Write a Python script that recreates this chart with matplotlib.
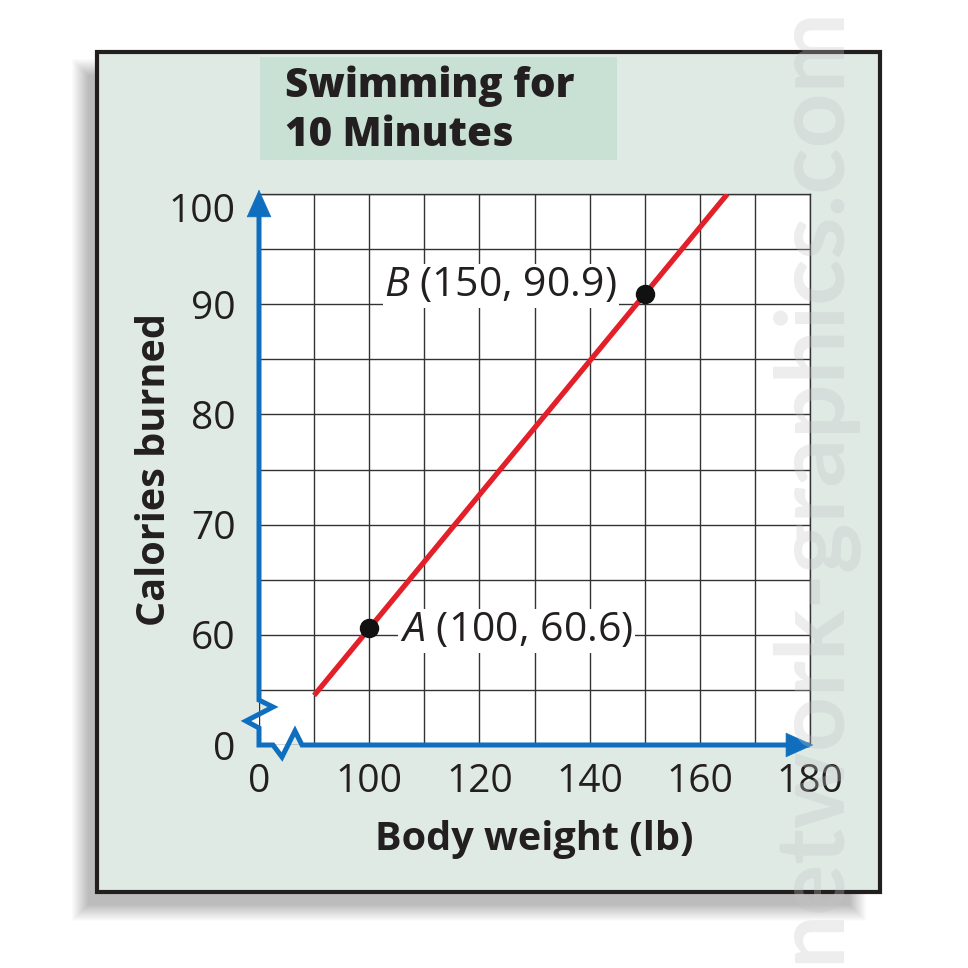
import matplotlib
matplotlib.use("Agg")
import matplotlib.pyplot as plt
from matplotlib.patches import Rectangle, Polygon
from matplotlib.transforms import ScaledTranslation

# ---- data ----
weights = [100, 150]
calories = [60.6, 90.9]
point_names = ["A", "B"]
line_x = [90, 165]
line_y = [54.5, 100.0]
x_ticks = [80, 100, 120, 140, 160, 180]
x_ticklabels = ["0", "100", "120", "140", "160", "180"]
y_ticks = [50, 60, 70, 80, 90, 100]
y_ticklabels = ["0", "60", "70", "80", "90", "100"]

BLUE, RED, INK = "#0f6fbe", "#e3202a", "#231f20"
PANEL, TITLEBOX = "#dfeae5", "#c9e0d4"
FONT = ["Open Sans", "DejaVu Sans"]
plt.rcParams.update({"font.family": FONT, "mathtext.fontset": "custom",
                     "mathtext.it": "Open Sans:italic", "mathtext.rm": "Open Sans"})

W = H = 968
fig = plt.figure(figsize=(W / 100, H / 100), dpi=100)

# background layer in pixel units: shadow, frame, title box
bg = fig.add_axes([0, 0, 1, 1])
bg.set_xlim(0, W); bg.set_ylim(H, 0); bg.axis("off")
for g in range(0, 17, 1):
    bg.add_patch(Rectangle((88 - g, 75 - g), 762 + 2 * g, 830 + 2 * g, fc="k", ec="none", alpha=0.016))
bg.add_patch(Rectangle((97, 52), 783, 840, fc=PANEL, ec=INK, lw=3))
bg.add_patch(Rectangle((260, 57), 357, 103, fc=TITLEBOX, ec="none"))
bg.text(285, 97, "Swimming for", fontsize=29, fontweight="heavy", color=INK, va="baseline")
bg.text(285, 146, "10 Minutes", fontsize=29, fontweight="heavy", color=INK, va="baseline")

# plot axes
ax = fig.add_axes([259 / W, (H - 745) / H, (810 - 259) / W, (745 - 194) / H])
ax.set_xlim(80, 180); ax.set_ylim(50, 100)
ax.patch.set_alpha(0)
ax.set_axisbelow(True)
ax.set_xticks(x_ticks); ax.set_xticklabels(x_ticklabels)
ax.set_yticks(y_ticks); ax.set_yticklabels(y_ticklabels)
ax.set_xticks(range(90, 180, 20), minor=True)
ax.set_yticks(range(55, 100, 10), minor=True)
ax.grid(which="both", color="#333333", lw=1.0)
ax.tick_params(which="both", length=0, labelsize=28, colors=INK)
ax.tick_params(axis="x", pad=13)
ax.tick_params(axis="y", pad=17)
for s in ["top", "right"]:
    ax.spines[s].set_color("#333333"); ax.spines[s].set_linewidth(1.0)
for s in ["left", "bottom"]:
    ax.spines[s].set_visible(False)
# top y label sits a little below its line, clear of the arrow
top_lbl = ax.get_yticklabels()[-1]
top_lbl.set_transform(top_lbl.get_transform() + ScaledTranslation(0, -0.13, fig.dpi_scale_trans))

# axis path with break marks
axis_x = [80, 80, 82.54, 77.64, 80, 80, 82.54, 84.17, 86.53, 87.8, 179.5]
axis_y = [99.5, 54.08, 53.45, 52.18, 51.54, 50, 50, 48.91, 51.27, 50, 50]
ax.add_patch(Polygon(list(zip(axis_x, axis_y)) + [(180, 50), (180, 100), (80, 100)],
                     fc="white", ec="none", zorder=0, clip_on=False))
ax.plot(axis_x, axis_y, color=BLUE, lw=3.6, clip_on=False, zorder=3, solid_joinstyle="miter")
arrow = dict(arrowstyle="-|>,head_length=19,head_width=8.5", mutation_scale=1,
             color=BLUE, lw=0.5, shrinkA=0, shrinkB=0)
ax.annotate("", xy=(80, 100.4), xytext=(80, 97), arrowprops=arrow, annotation_clip=False, zorder=3)
ax.annotate("", xy=(180.6, 50), xytext=(176, 50), arrowprops=arrow, annotation_clip=False, zorder=3)

ax.plot(line_x, line_y, color=RED, lw=3.8, zorder=4, solid_capstyle="butt")
ax.plot(weights, calories, "o", color="#111111", ms=13, zorder=5)

offsets = {"A": ((22, -2), "left"), "B": ((-20, 6), "right")}
for name, xv, yv in zip(point_names, weights, calories):
    (dx, dy), ha = offsets[name]
    ax.annotate(f"${name}$ ({xv}, {yv})", xy=(xv, yv), xytext=(dx, dy), textcoords="offset points",
                ha=ha, va="center", fontsize=29.5, color=INK, zorder=6,
                bbox=dict(boxstyle="square,pad=0.04", fc="white", ec="none"))

ax.text(0.5, -0.172, "Body weight (lb)", transform=ax.transAxes, fontsize=28.5, fontweight="bold",
        color=INK, ha="center", va="center")
ax.text(-0.19, 0.5, "Calories burned", transform=ax.transAxes, fontsize=28.5, fontweight="bold",
        color=INK, ha="center", va="center", rotation=90)

# watermark
fig.text(812 / W, 0.499, "network-graphics.com", rotation=90, fontsize=69, fontweight="bold",
         family=["Lato", "DejaVu Sans"], ha="center", va="center", color="#c4c4c4", alpha=0.3, zorder=10)

fig.savefig("out.png", dpi=100)
